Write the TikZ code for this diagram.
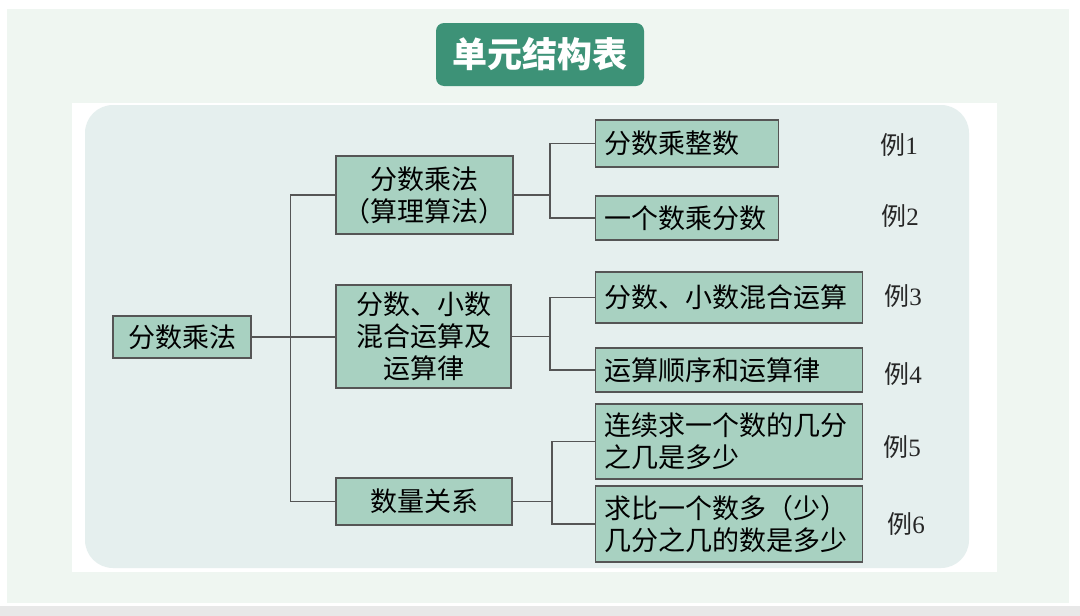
\documentclass[tikz,border=0pt]{standalone}
\usepackage{fontspec}
\setmainfont{Liberation Serif}
\newfontfamily\cjk{Noto Sans CJK SC}
\definecolor{bggreen}{HTML}{EFF6F1}
\definecolor{panelbg}{HTML}{E5EFEE}
\definecolor{boxgreen}{HTML}{A8D1C1}
\definecolor{titlegreen}{HTML}{3D9277}
\definecolor{linegray}{HTML}{555555}
\tikzset{
  box/.style = {draw=linegray, fill=boxgreen, line width=1.2pt, inner sep=0pt,
    font=\cjk\fontsize{27}{32}\selectfont, align=center},
  leaf/.style = {box, anchor=west, align=left, inner xsep=9pt},
  link/.style = {draw=linegray, line width=1.2pt},
  titlebox/.style = {fill=titlegreen, rounded corners=8pt, text=white,
    minimum width=208pt, minimum height=63pt, font=\cjk\bfseries\fontsize{35}{38}\selectfont},
  exlabel/.style = {font=\fontsize{25}{30}\selectfont, text=black!85}
}
\begin{document}
\begin{tikzpicture}[x=1pt, y=-1pt]
    \useasboundingbox (0,0) rectangle (1080,616);

    \fill [white] (0,0) rectangle (1080,616) ;
    \fill [bggreen] (7,9) rectangle (1069,603) ;
    \fill [black!9] (0,606) rectangle (1080,616) ;
    \fill [white] (72,103) rectangle (997,572) ;
    \fill [panelbg, rounded corners=28pt] (85,105) rectangle (969,568) ;

    \node [titlebox] (title) at (540,54.5) {单元结构表} ;

    \node [box, minimum width=138pt, minimum height=42pt] (root) at (182,337) {分数乘法} ;
    \node [box, minimum width=177pt, minimum height=78pt] (b1) at (424.5,195) {分数乘法\\（算理算法）} ;
    \node [box, minimum width=175pt, minimum height=103pt] (b2) at (423.5,336.5) {分数、小数\\混合运算及\\运算律} ;
    \node [box, minimum width=176pt, minimum height=47pt] (b3) at (424,501.5) {数量关系} ;

    \node [leaf, text width=165pt, minimum height=47pt] (l1) at (595,143.5) {分数乘整数} ;
    \node [leaf, text width=165pt, minimum height=44pt] (l2) at (595,218) {一个数乘分数} ;
    \node [leaf, text width=249pt, minimum height=51pt] (l3) at (595,297.5) {分数、小数混合运算} ;
    \node [leaf, text width=249pt, minimum height=44pt] (l4) at (595,370) {运算顺序和运算律} ;
    \node [leaf, text width=249pt, minimum height=75pt] (l5) at (595,441.5) {连续求一个数的几分\\之几是多少} ;
    \node [leaf, text width=249pt, minimum height=76pt] (l6) at (595,524) {求比一个数多（少）\\几分之几的数是多少} ;

    \draw [link] (b1.west) -- ++(-45,0) |- (b3.west) ;
    \draw [link] (root.east) -- (root.east -| b2.west) ;

    \draw [link] (l1.west) -- ++(-45,0) coordinate (k1) |- (l2.west) ;
    \draw [link] (b1.east) -- (b1.east -| k1) ;
    \draw [link] (l3.west) -- ++(-45,0) coordinate (k2) |- (l4.west) ;
    \draw [link] (b2.east) -- (b2.east -| k2) ;
    \draw [link] (l5.west) -- ++(-43,0) coordinate (k3) |- (l6.west) ;
    \draw [link] (b3.east) -- (b3.east -| k3) ;

    \foreach \n/\x/\y in {1/899/145, 2/900/216, 3/903/296, 4/903/374, 5/902/447, 6/906/524} {
      \node [exlabel] (ex\n) at (\x,\y) {{\cjk 例}\n} ;
    }

  \end{tikzpicture}
\end{document}
